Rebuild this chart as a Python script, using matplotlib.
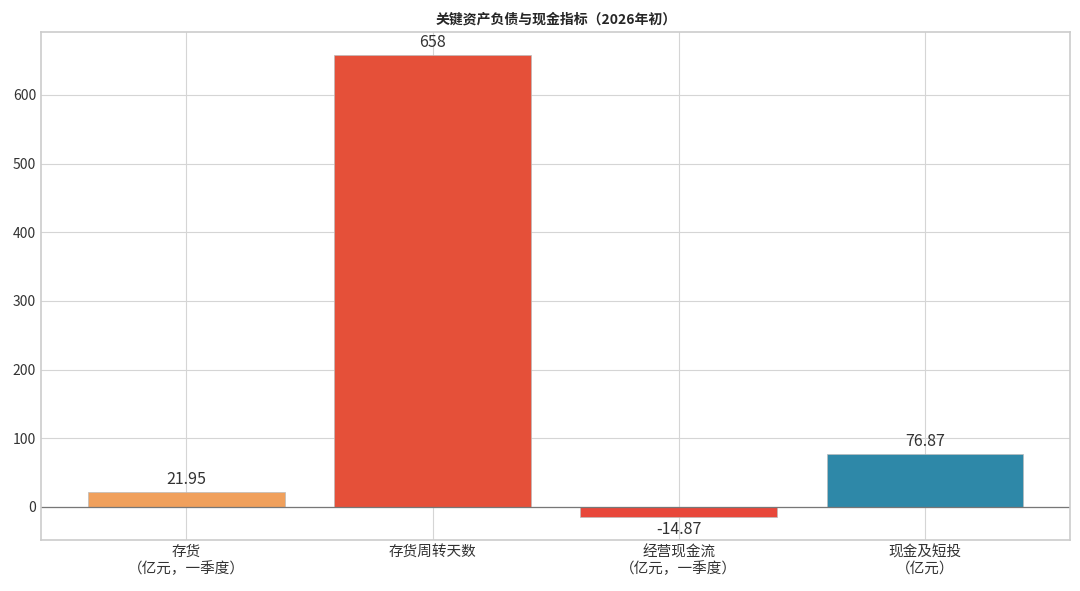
import numpy as np
import matplotlib
matplotlib.use("Agg")
import matplotlib.pyplot as plt

plt.style.use("seaborn-v0_8-whitegrid")
plt.rcParams['font.family'] = ['Noto Sans CJK SC', 'DejaVu Sans']
plt.rcParams['axes.unicode_minus'] = False

categories = ["存货\n（亿元，一季度）", "存货周转天数", "经营现金流\n（亿元，一季度）", "现金及短投\n（亿元）"]
values = [21.95, 658, -14.87, 76.87]
value_labels = ["21.95", "658", "-14.87", "76.87"]
colors = ["#F0A05C", "#E55039", "#E8473A", "#2E88A8"]

fig, ax = plt.subplots(figsize=(10.8, 5.91), dpi=100)
x = np.arange(len(categories))
bars = ax.bar(x, values, width=0.8, color=colors, edgecolor="#bbbbbb", linewidth=0.5)

for b, v, lab in zip(bars, values, value_labels):
    if v >= 0:
        ax.annotate(lab, (b.get_x() + b.get_width() / 2, v), xytext=(0, 3),
                    textcoords="offset points", ha="center", va="bottom", fontsize=11.5, color="#333333")
    else:
        ax.annotate(lab, (b.get_x() + b.get_width() / 2, v), xytext=(0, -3),
                    textcoords="offset points", ha="center", va="top", fontsize=11.5, color="#333333")

ax.axhline(0, color="#777777", linewidth=0.9)
ax.set_xticks(x)
ax.set_xticklabels(categories, fontsize=10.5, color="#333333")
ax.set_yticks(np.arange(0, 700, 100))
ax.tick_params(axis="y", labelsize=10, colors="#333333")
ax.set_title("关键资产负债与现金指标（2026年初）", fontsize=10, fontweight="bold", pad=6)
for s in ax.spines.values():
    s.set_visible(True)
    s.set_color("#cccccc")
    s.set_linewidth(1.2)
ax.grid(True, color="#d5d5d5", linewidth=0.8)

fig.subplots_adjust(left=0.038, right=0.991, top=0.946, bottom=0.086)
fig.savefig("out.png", dpi=100)
